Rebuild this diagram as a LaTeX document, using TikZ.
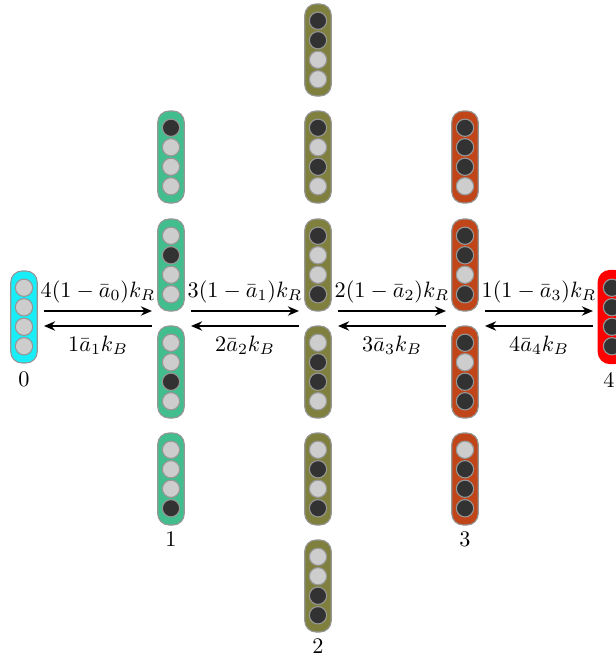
\documentclass[tikz,border=0pt]{standalone}
\usetikzlibrary{arrows.meta,calc}

\definecolor{capCyan}{RGB}{25,238,248}
\definecolor{capGreen}{RGB}{66,190,142}
\definecolor{capOlive}{RGB}{128,128,62}
\definecolor{capRust}{RGB}{192,70,26}
\definecolor{capRed}{RGB}{255,0,0}
\definecolor{rimGray}{RGB}{150,150,150}
\definecolor{dotLight}{RGB}{205,205,205}
\definecolor{dotDark}{RGB}{50,50,50}

\tikzset{
  capsule/.style={draw=rimGray, line width=0.5pt, rectangle, rounded corners=5pt,
    minimum width=11.9pt, minimum height=41.4pt, inner sep=0pt},
  dotL/.style={circle, draw=rimGray, fill=dotLight, line width=0.5pt,
    minimum size=7.8pt, inner sep=0pt},
  dotD/.style={circle, draw=rimGray, fill=dotDark, line width=0.5pt,
    minimum size=7.8pt, inner sep=0pt},
  rate/.style={-{Stealth[length=5pt,width=4.2pt]}, line width=0.7pt},
  lbl/.style={inner sep=0pt, font=\normalsize}
}

% capsule with four sites: name, x, y, fill colour, list of D/L
\newcommand\sitecapsule[5]{%
  \node[capsule, fill=#4] (#1) at (#2,#3) {};
  \foreach \s [count=\i] in {#5}
    \node[dot\s] (#1-\i) at (#2,{#3+(\i-2.5)*19.5}) {};
}

\begin{document}
\begin{tikzpicture}[x=0.45pt, y=-0.45pt]
\useasboundingbox (0,0) rectangle (616,659);

% column 0
\sitecapsule{s0a}{24}{317}{capCyan}{L,L,L,L}
% column 1
\sitecapsule{s1a}{171}{157}{capGreen}{D,L,L,L}
\sitecapsule{s1b}{171}{265}{capGreen}{L,D,L,L}
\sitecapsule{s1c}{171}{372}{capGreen}{L,L,D,L}
\sitecapsule{s1d}{171}{479}{capGreen}{L,L,L,D}
% column 2
\sitecapsule{s2a}{318}{50}{capOlive}{D,D,L,L}
\sitecapsule{s2b}{318}{157}{capOlive}{D,L,D,L}
\sitecapsule{s2c}{318}{265}{capOlive}{D,L,L,D}
\sitecapsule{s2d}{318}{372}{capOlive}{L,D,D,L}
\sitecapsule{s2e}{318}{479}{capOlive}{L,D,L,D}
\sitecapsule{s2f}{318}{586}{capOlive}{L,L,D,D}
% column 3
\sitecapsule{s3a}{465}{157}{capRust}{D,D,D,L}
\sitecapsule{s3b}{465}{265}{capRust}{D,D,L,D}
\sitecapsule{s3c}{465}{372}{capRust}{D,L,D,D}
\sitecapsule{s3d}{465}{479}{capRust}{L,D,D,D}
% column 4
\node[capsule, draw=capRed, line width=1pt, fill=capRed] (s4a) at (612,317) {};
\foreach \i in {1,...,4}
  \node[dotD] (s4a-\i) at (612,{317+(\i-2.5)*19.5}) {};

% column numbers
\node[lbl] (n0) at (24,379) {0};
\node[lbl] (n1) at (171,539) {1};
\node[lbl] (n2) at (318,646) {2};
\node[lbl] (n3) at (465,539) {3};
\node[lbl] (n4) at (609,380) {4};

% rate arrows between neighbouring columns
\foreach \a/\b [count=\k from 0] in {24/171,171/318,318/465,465/612}{
  \coordinate (f\k) at (\a+20,311);
  \coordinate (t\k) at (\b-19,311);
  \coordinate (bf\k) at (\b-19,326);
  \coordinate (bt\k) at (\a+20,326);
  \draw[rate] (f\k) -- (t\k);
  \draw[rate] (bf\k) -- (bt\k);
}

\node[lbl] (r0) at ($(f0)!0.5!(t0)+(0,-19)$) {$4(1-\bar{a}_0)k_R$};
\node[lbl] (r1) at ($(f1)!0.5!(t1)+(0,-19)$) {$3(1-\bar{a}_1)k_R$};
\node[lbl] (r2) at ($(f2)!0.5!(t2)+(0,-19)$) {$2(1-\bar{a}_2)k_R$};
\node[lbl] (r3) at ($(f3)!0.5!(t3)+(0,-19)$) {$1(1-\bar{a}_3)k_R$};

\node[lbl] (b0) at ($(bf0)!0.5!(bt0)+(0,19)$) {$1\bar{a}_1k_B$};
\node[lbl] (b1) at ($(bf1)!0.5!(bt1)+(0,19)$) {$2\bar{a}_2k_B$};
\node[lbl] (b2) at ($(bf2)!0.5!(bt2)+(0,19)$) {$3\bar{a}_3k_B$};
\node[lbl] (b3) at ($(bf3)!0.5!(bt3)+(0,19)$) {$4\bar{a}_4k_B$};
\end{tikzpicture}
\end{document}
